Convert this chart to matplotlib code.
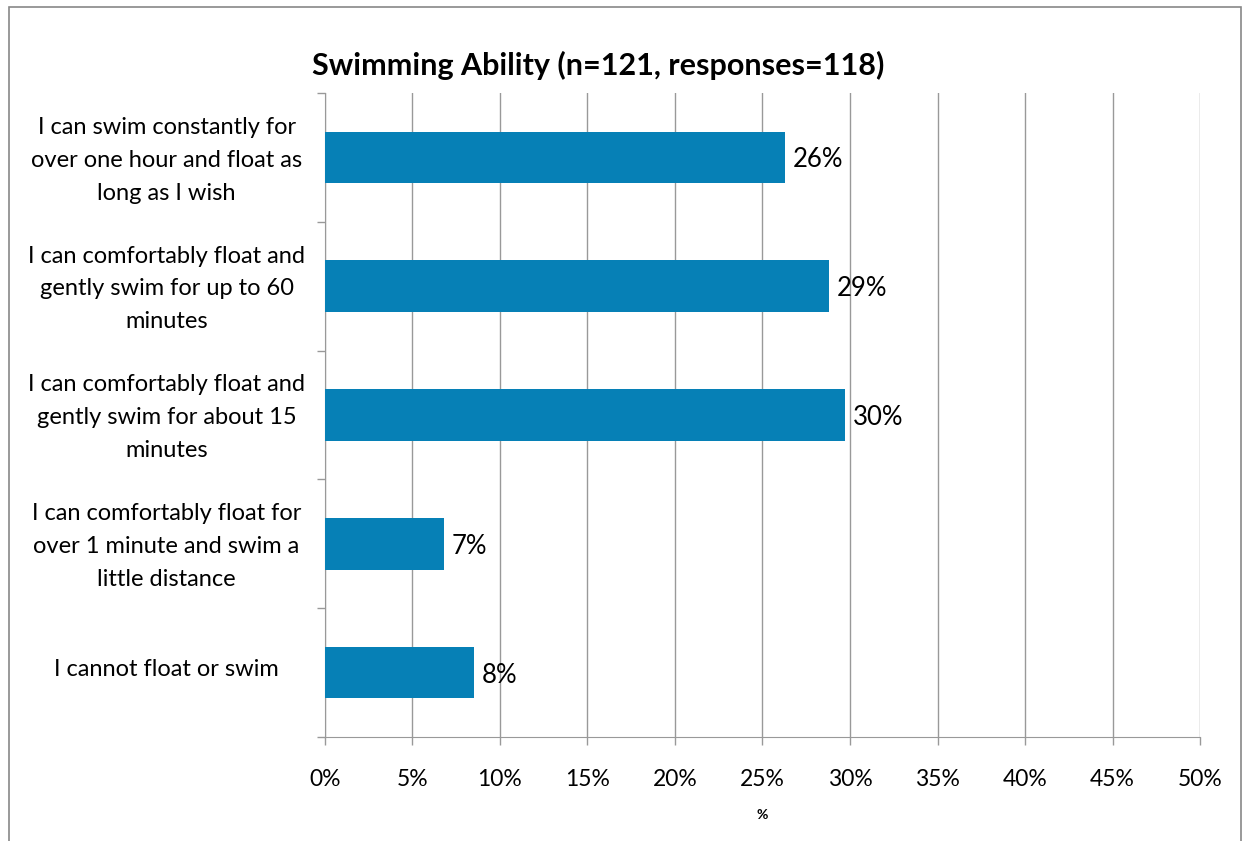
import matplotlib.pyplot as plt
import numpy as np
from matplotlib.patches import Rectangle

# data (responses = 118)
categories = ['I can swim constantly for\nover one hour and float as\nlong as I wish',
              'I can comfortably float and\ngently swim for up to 60\nminutes',
              'I can comfortably float and\ngently swim for about 15\nminutes',
              'I can comfortably float for\nover 1 minute and swim a\nlittle distance',
              'I cannot float or swim']
values = [26.3, 28.8, 29.7, 6.8, 8.5]
labels = ['26%', '29%', '30%', '7%', '8%']
xticks = [0, 5, 10, 15, 20, 25, 30, 35, 40, 45, 50]

plt.rcParams['font.family'] = ['Lato', 'DejaVu Sans']

fig = plt.figure(figsize=(12.46, 8.41), dpi=100)
ax = fig.add_axes([0.2608, 0.1237, 0.7023, 0.7657])

y = np.arange(len(categories))
ax.barh(y, values, height=0.4, color='#0680B6', zorder=3)
for yi, v, lab in zip(y, values, labels):
    ax.text(v + 0.45, yi + 0.02, lab, va='center', ha='left', fontsize=18.5, zorder=4)

ax.set_xlim(0, 50)
ax.set_ylim(len(categories) - 0.5, -0.5)
ax.set_xticks(xticks)
ax.set_xticklabels([f'{t}%' for t in xticks], fontsize=16.5)
ax.tick_params(axis='x', length=6, width=1, color='#999999', pad=17)
ax.grid(axis='x', color='#999999', linewidth=1, zorder=0)

# ticks at category boundaries, labels at centers
ax.set_yticks(np.arange(-0.5, len(categories)), minor=False)
ax.set_yticklabels([])
ax.set_yticks(y - 0.04, minor=True)
ax.set_yticklabels(categories, minor=True, fontsize=17, ha='center',
                   multialignment='center', linespacing=1.7)
ax.tick_params(axis='y', which='major', length=6, width=1, color='#999999')
ax.tick_params(axis='y', which='minor', length=0, pad=114)

for s in ['top', 'right']:
    ax.spines[s].set_visible(False)
for s in ['left', 'bottom']:
    ax.spines[s].set_color('#999999')

ax.set_xlabel('%', fontsize=10, fontweight='bold', labelpad=14)

fig.text(0.48, 0.922, 'Swimming Ability (n=121, responses=118)', ha='center',
         va='center', fontsize=22, fontweight='bold')

# chart border
fig.patches.append(Rectangle((0.007, -0.05), 0.9887, 1.0413, transform=fig.transFigure,
                             fill=False, edgecolor='#888888', linewidth=1.2))

fig.savefig('out.png', dpi=100)
